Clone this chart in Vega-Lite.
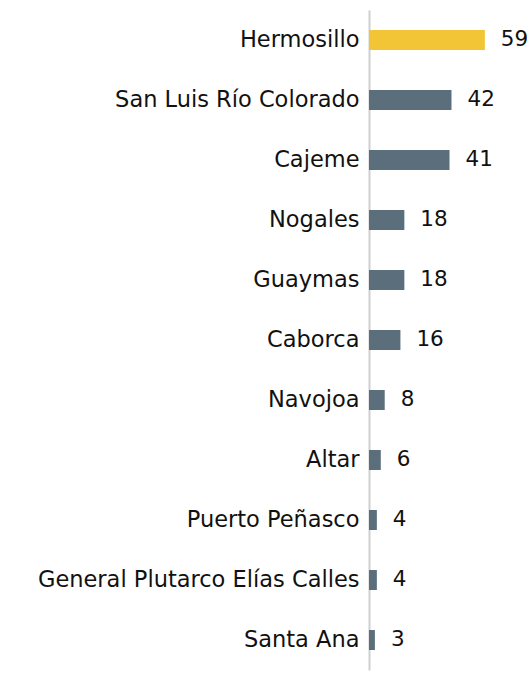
{
  "$schema": "https://vega.github.io/schema/vega-lite/v6.json",
  "width": 163,
  "height": 660,
  "autosize": {"type": "none"},
  "padding": {"left": 369, "top": 10, "right": 0, "bottom": 14},
  "background": "white",
  "config": {"view": {"stroke": null}, "font": "DejaVu Sans"},
  "data": {"values": [
    {"municipio": "Hermosillo", "valor": 59, "destacado": "si"},
    {"municipio": "San Luis Río Colorado", "valor": 42, "destacado": "no"},
    {"municipio": "Cajeme", "valor": 41, "destacado": "no"},
    {"municipio": "Nogales", "valor": 18, "destacado": "no"},
    {"municipio": "Guaymas", "valor": 18, "destacado": "no"},
    {"municipio": "Caborca", "valor": 16, "destacado": "no"},
    {"municipio": "Navojoa", "valor": 8, "destacado": "no"},
    {"municipio": "Altar", "valor": 6, "destacado": "no"},
    {"municipio": "Puerto Peñasco", "valor": 4, "destacado": "no"},
    {"municipio": "General Plutarco Elías Calles", "valor": 4, "destacado": "no"},
    {"municipio": "Santa Ana", "valor": 3, "destacado": "no"}
  ]},
  "encoding": {
    "y": {
      "field": "municipio", "type": "nominal", "sort": null,
      "scale": {"paddingInner": 0.667, "paddingOuter": 0.333},
      "axis": {"title": null, "ticks": false, "domain": true, "domainColor": "#cfcfcf", "domainWidth": 2,
               "labelFontSize": 22.5, "labelColor": "#111111", "labelPadding": 10, "labelLimit": 400}
    },
    "x": {"field": "valor", "type": "quantitative", "scale": {"domain": [0, 83]}, "axis": null}
  },
  "layer": [
    {
      "mark": {"type": "bar"},
      "encoding": {
        "color": {"field": "destacado", "type": "nominal",
                  "scale": {"domain": ["si", "no"], "range": ["#F2C537", "#5B6E7B"]}, "legend": null}
      }
    },
    {
      "mark": {"type": "text", "align": "left", "baseline": "middle", "dx": 16, "fontSize": 21.5, "color": "#111111"},
      "encoding": {"text": {"field": "valor", "type": "quantitative"}}
    }
  ]
}
